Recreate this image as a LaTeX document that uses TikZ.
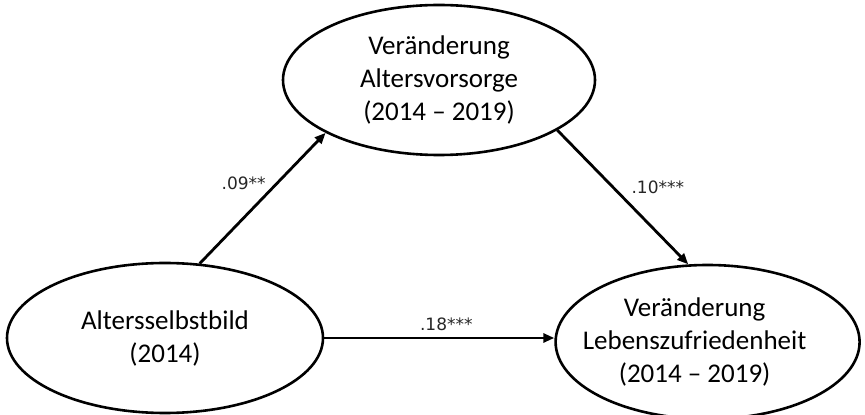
\documentclass[tikz,border=0pt]{standalone}
\usepackage{fontspec}
\setmainfont{Carlito}
\newfontfamily\coeffont{DejaVu Sans}
\usetikzlibrary{shapes.geometric,arrows.meta,positioning}

\begin{document}
\begin{tikzpicture}[
  x=1pt, y=1pt,
  var/.style={ellipse, draw, line width=2.6pt, minimum width=316pt,
              minimum height=150pt, inner sep=0pt, align=center,
              font=\fontsize{27}{33}\selectfont},
  txt/.style={align=center, font=\fontsize{27}{33}\selectfont},
  arr/.style={-{Triangle[length=11pt,width=9pt]}, line width=2.8pt},
  coef/.style={text=black!85, font=\coeffont\fontsize{17}{20}\selectfont},
]
\useasboundingbox (0,0) rectangle (865,415);
\node[var] (selbst) at (165,77) {Altersselbstbild\\(2014)};
\node[var, minimum width=312pt] (vorsorge) at (439,335) {Veränderung\\Altersvorsorge\\(2014 – 2019)};
\node[var, minimum width=304pt, minimum height=154pt, right=230pt of selbst, yshift=-4pt] (zufr) {};
\node[txt] (zufrtxt) at ([xshift=-13pt]zufr.center) {Veränderung\\Lebenszufriedenheit\\(2014 – 2019)};
\draw[arr] (selbst.65) -- (vorsorge.205) node[coef, midway, xshift=-19pt, yshift=15pt]{.09**};
\draw[arr] (vorsorge.337) -- (zufr.104) node[coef, midway, xshift=35pt, yshift=10pt]{.10***};
\draw[arr] (selbst.east) -- (selbst.east -| zufr.west) node[coef, midway, xshift=7pt, yshift=14pt]{.18***};
\end{tikzpicture}
\end{document}
